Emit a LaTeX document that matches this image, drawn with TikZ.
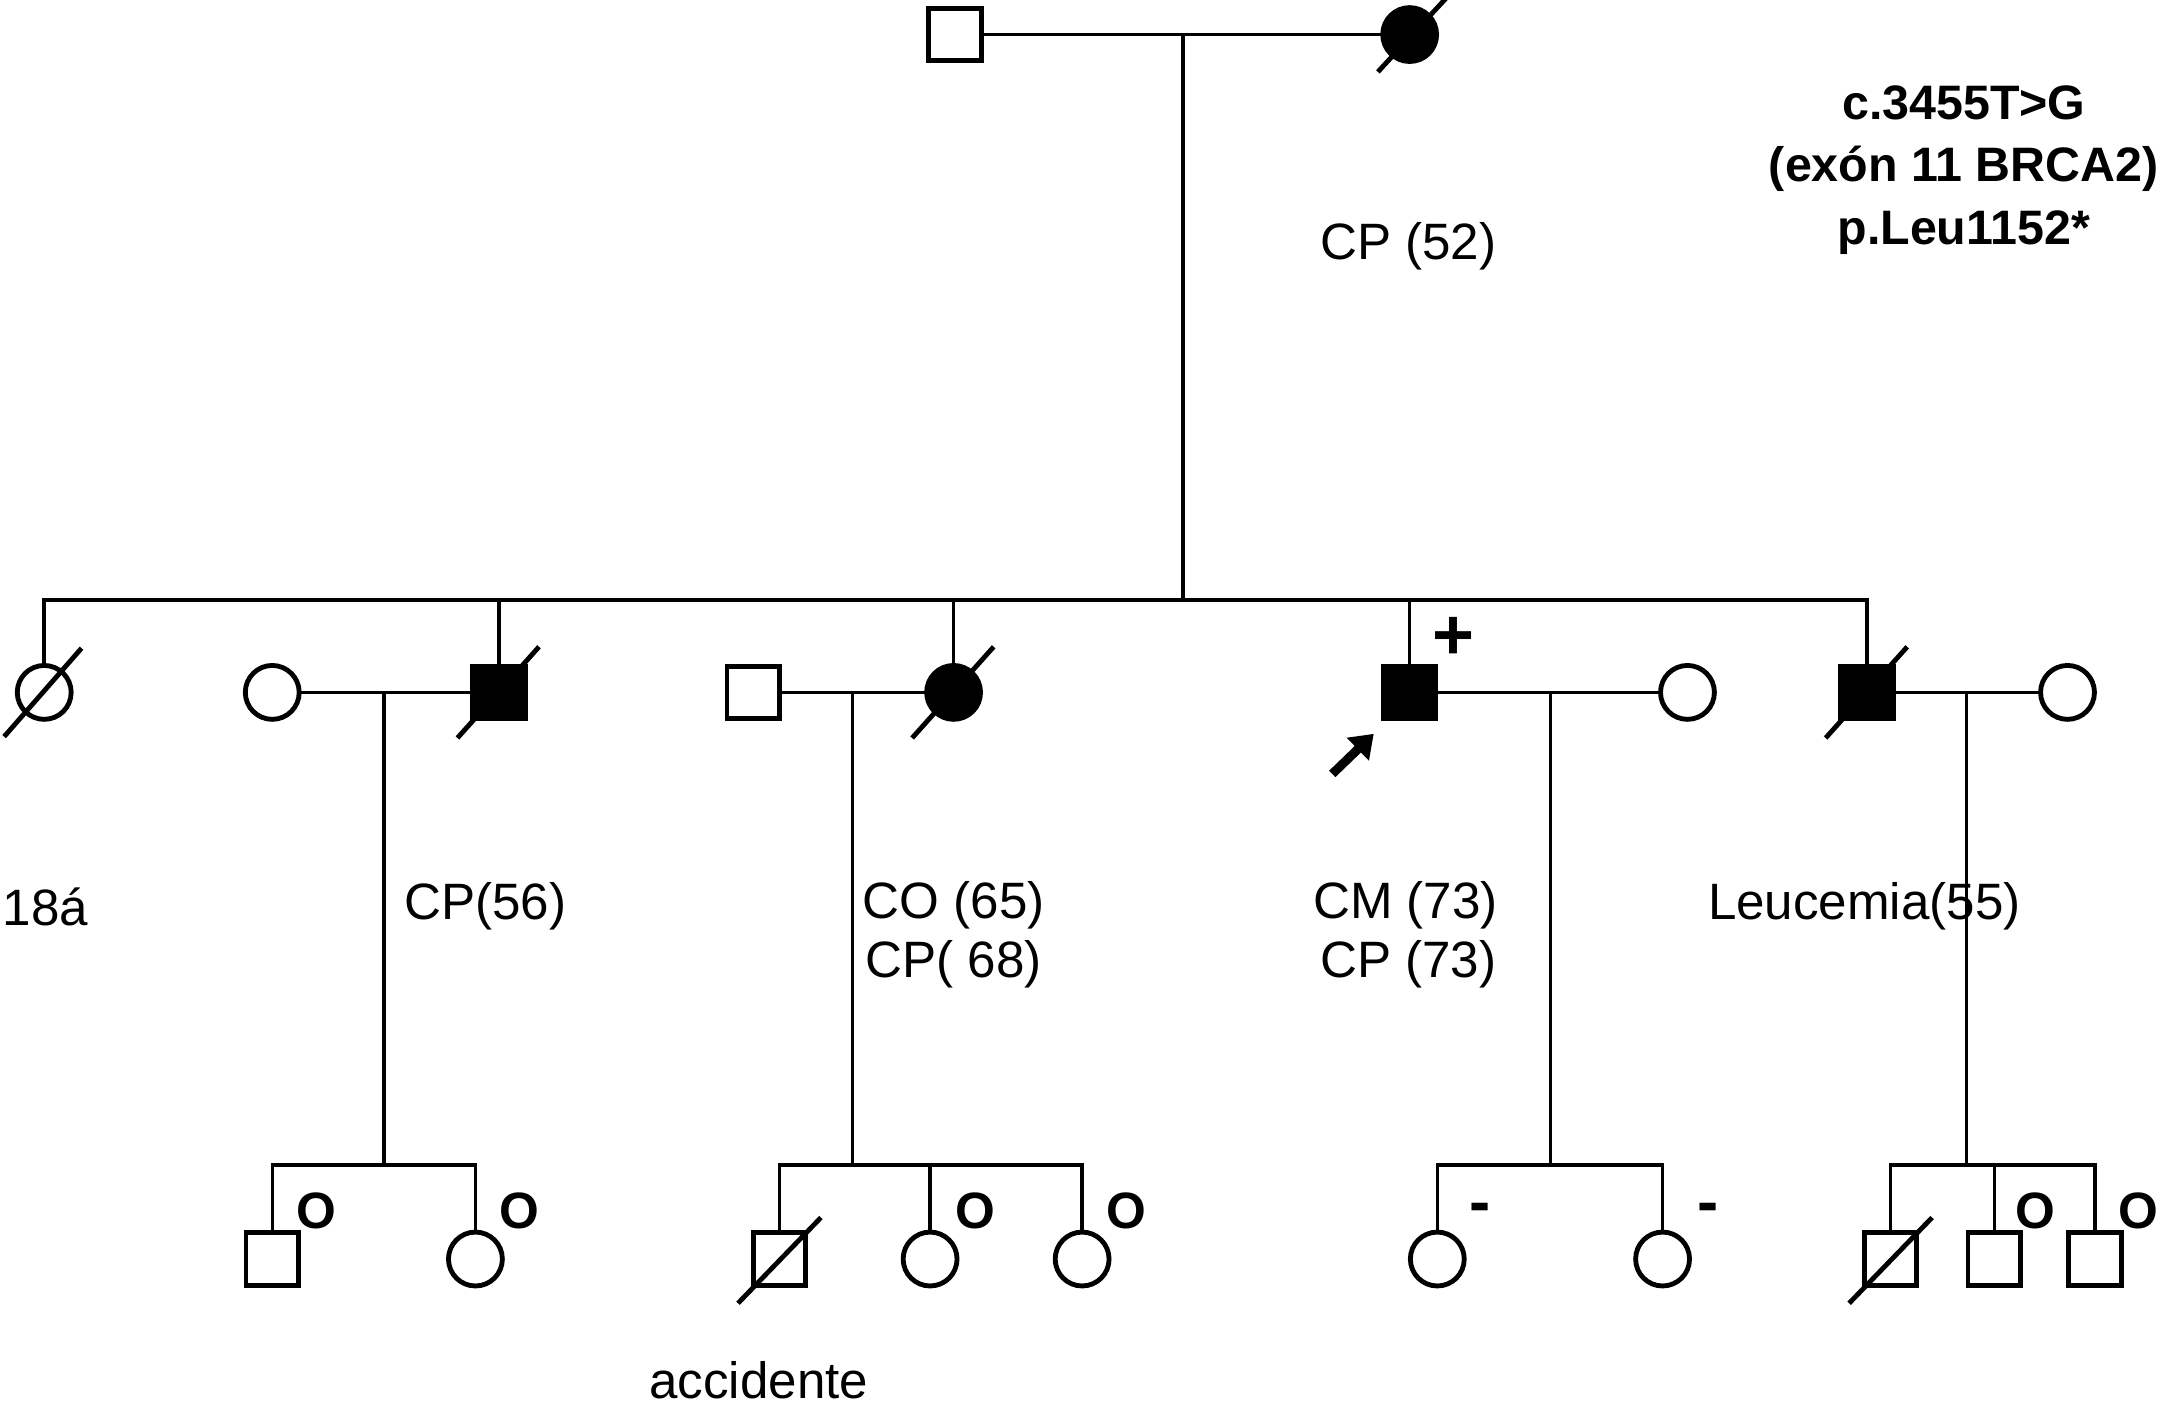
\documentclass[tikz,border=0pt]{standalone}
\usepackage{fontspec}
\setmainfont{Liberation Sans}
\usetikzlibrary{arrows.meta}
\begin{document}
\begin{tikzpicture}[x=1pt,y=-1pt,
  male/.style={draw,rectangle,minimum size=38pt,inner sep=0pt,outer sep=0pt,line width=3.5pt,fill=white},
  female/.style={draw,circle,minimum size=39pt,inner sep=0pt,outer sep=0pt,line width=3.5pt,fill=white},
  aff/.style={fill=black},
  ln/.style={line width=2.5pt},
  deadln/.style={line width=3.5pt},
  lab/.style={font=\fontsize{37}{43}\selectfont,inner sep=0pt},
  statuslbl/.style={font=\fontsize{37}{40}\selectfont\bfseries,inner sep=0pt},
  pluslbl/.style={font=\fontsize{52}{54}\selectfont\bfseries,inner sep=0pt},
  minuslbl/.style={font=\fontsize{46}{48}\selectfont\bfseries,inner sep=0pt},
]
\useasboundingbox (0,0) rectangle (1568,1017);

% ---------- Generation I ----------
\node[male] (I1) at (691,25) {};
\node[female,aff] (I2) at (1020,25) {};
\coordinate (m0) at (856,25);
\coordinate (s0) at (856,434);

% ---------- Generation II ----------
\node[female] (II1) at (32,501) {};
\node[female] (II2) at (197,501) {};
\node[male,aff] (II3) at (361,501) {};
\node[male] (II4) at (545,501) {};
\node[female,aff] (II5) at (690,501) {};
\node[male,aff] (II6) at (1020,501) {};
\node[female] (II7) at (1221,501) {};
\node[male,aff] (II8) at (1351,501) {};
\node[female] (II9) at (1496,501) {};

\coordinate (mA) at (278,501); \coordinate (sA) at (278,843);
\coordinate (mB) at (617,501); \coordinate (sB) at (617,843);
\coordinate (mC) at (1122,501); \coordinate (sC) at (1122,843);
\coordinate (mD) at (1423,501); \coordinate (sD) at (1423,843);

% ---------- Generation III ----------
\node[male] (A1) at (197,911) {};
\node[female] (A2) at (344,911) {};
\node[male] (B1) at (564,911) {};
\node[female] (B2) at (673,911) {};
\node[female] (B3) at (783,911) {};
\node[female] (C1) at (1040,911) {};
\node[female] (C2) at (1203,911) {};
\node[male] (D1) at (1368,911) {};
\node[male] (D2) at (1443,911) {};
\node[male] (D3) at (1516,911) {};

% ---------- connectors ----------
\draw[ln] (I1) -- (I2);
\draw[ln] (m0) -- (s0);
\draw[ln] (II1) -- (II1 |- s0) -- (II8 |- s0) -- (II8);
\draw[ln] (II3 |- s0) -- (II3);
\draw[ln] (II5 |- s0) -- (II5);
\draw[ln] (II6 |- s0) -- (II6);

\draw[ln] (II2) -- (II3);
\draw[ln] (II4) -- (II5);
\draw[ln] (II6) -- (II7);
\draw[ln] (II8) -- (II9);

\draw[ln] (mA) -- (sA);
\draw[ln] (A1) -- (A1 |- sA) -- (A2 |- sA) -- (A2);
\draw[ln] (mB) -- (sB);
\draw[ln] (B1) -- (B1 |- sB) -- (B3 |- sB) -- (B3);
\draw[ln] (B2 |- sB) -- (B2);
\draw[ln] (mC) -- (sC);
\draw[ln] (C1) -- (C1 |- sC) -- (C2 |- sC) -- (C2);
\draw[ln] (mD) -- (sD);
\draw[ln] (D1) -- (D1 |- sD) -- (D3 |- sD) -- (D3);
\draw[ln] (D2 |- sD) -- (D2);

% ---------- deceased slashes ----------
\draw[deadln] (I2) ++(-23,27) -- ++(50,-54);
\draw[deadln] (II1) ++(-29,32) -- ++(56,-64);
\draw[deadln] (II3) ++(-30,33) -- ++(59,-66);
\draw[deadln] (II5) ++(-30,33) -- ++(59,-66);
\draw[deadln] (II8) ++(-30,33) -- ++(59,-66);
\draw[deadln] (B1) ++(-30,32) -- ++(60,-62);
\draw[deadln] (D1) ++(-30,32) -- ++(60,-62);

% ---------- proband arrow ----------
\coordinate (pa0) at (964,560);
\coordinate (pa1) at (994,531);
\draw[line width=6.5pt,-{Triangle[length=16pt,width=22pt]}] (pa0) -- (pa1);

% ---------- texts ----------
\node[lab] (tI2) at (1019,178) {CP (52)};
\node[font=\fontsize{35}{45}\selectfont\bfseries,align=center,inner sep=0pt] (mut) at (1421,123)
  {c.3455T>G\\(exón 11 BRCA2)\\p.Leu1152*};

\node[lab] (tII1) at (33,656) {18á};
\node[lab] (tII3) at (351,656) {CP(56)};
\node[lab] (tII5a) at (690,655) {CO (65)};
\node[lab] (tII5b) at (690,698) {CP( 68)};
\node[lab] (tII6a) at (1017,655) {CM (73)};
\node[lab] (tII6b) at (1019,698) {CP (73)};
\node[lab] (tII8) at (1349,656) {Leucemia(55)};
\node[lab] (tB1) at (549,999) {accidente};

\node[pluslbl] (pII6) at (1052,462) {+};
\node[statuslbl] (oA1) at (229,876) {O};
\node[statuslbl] (oA2) at (376,876) {O};
\node[statuslbl] (oB2) at (706,876) {O};
\node[statuslbl] (oB3) at (815,876) {O};
\node[minuslbl] (nC1) at (1071,878) {-};
\node[minuslbl] (nC2) at (1236,878) {-};
\node[statuslbl] (oD2) at (1473,876) {O};
\node[statuslbl] (oD3) at (1547,876) {O};
\end{tikzpicture}
\end{document}
